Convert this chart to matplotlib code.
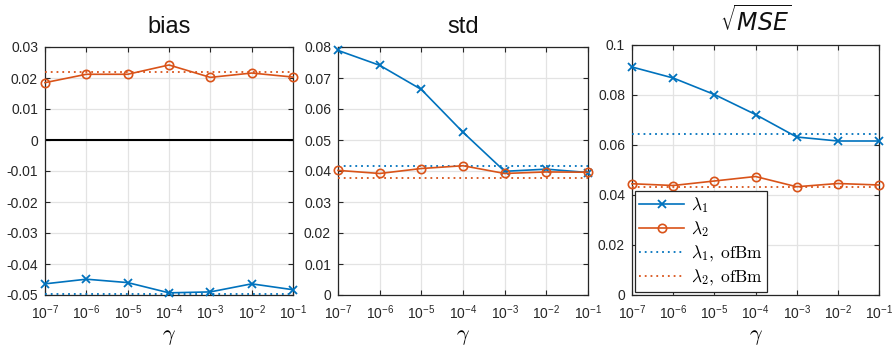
import numpy as np
import matplotlib
matplotlib.use("Agg")
import matplotlib.pyplot as plt

plt.rcParams['font.family'] = ['Liberation Sans', 'DejaVu Sans']
plt.rcParams['axes.unicode_minus'] = False
plt.rcParams['mathtext.fontset'] = 'dejavusans'

gamma = [1e-7, 1e-6, 1e-5, 1e-4, 1e-3, 1e-2, 1e-1]
xtick_labels = [r'$\mathregular{10^{-7}}$', r'$\mathregular{10^{-6}}$', r'$\mathregular{10^{-5}}$',
                r'$\mathregular{10^{-4}}$', r'$\mathregular{10^{-3}}$', r'$\mathregular{10^{-2}}$',
                r'$\mathregular{10^{-1}}$']

bias_l1 = [-0.0464, -0.0449, -0.0460, -0.0493, -0.0490, -0.0464, -0.0483]
bias_l2 = [0.0185, 0.0212, 0.0212, 0.0242, 0.0202, 0.0216, 0.0203]
bias_l1_ofbm = -0.0496
bias_l2_ofbm = 0.0219

std_l1 = [0.0789, 0.0741, 0.0663, 0.0525, 0.0399, 0.0406, 0.0395]
std_l2 = [0.0402, 0.0392, 0.0408, 0.0417, 0.0392, 0.0397, 0.0396]
std_l1_ofbm = 0.0415
std_l2_ofbm = 0.0379

mse_l1 = [0.0912, 0.0868, 0.0802, 0.0722, 0.0632, 0.0616, 0.0616]
mse_l2 = [0.0445, 0.0438, 0.0456, 0.0474, 0.0433, 0.0446, 0.0440]
mse_l1_ofbm = 0.0645
mse_l2_ofbm = 0.0433

BLUE = '#0072BD'
ORANGE = '#D95319'

fig = plt.figure(figsize=(8.94, 3.5), dpi=100)
positions = [
    [45/894, 1-295/350, 248/894, 248/350],
    [338/894, 1-295/350, 250/894, 248/350],
    [632/894, 1-295/350, 247/894, 250/350],
]

panels = [
    ('bias', bias_l1, bias_l2, bias_l1_ofbm, bias_l2_ofbm, (-0.05, 0.03),
     [0.03, 0.02, 0.01, 0, -0.01, -0.02, -0.03, -0.04, -0.05],
     ['0.03', '0.02', '0.01', '0', '-0.01', '-0.02', '-0.03', '-0.04', '-0.05']),
    ('std', std_l1, std_l2, std_l1_ofbm, std_l2_ofbm, (0, 0.08),
     [0, 0.01, 0.02, 0.03, 0.04, 0.05, 0.06, 0.07, 0.08],
     ['0', '0.01', '0.02', '0.03', '0.04', '0.05', '0.06', '0.07', '0.08']),
    (r'$\sqrt{MSE}$', mse_l1, mse_l2, mse_l1_ofbm, mse_l2_ofbm, (0, 0.1),
     [0, 0.02, 0.04, 0.06, 0.08, 0.1],
     ['0', '0.02', '0.04', '0.06', '0.08', '0.1']),
]

for i, (title, l1, l2, o1, o2, ylim, yt, ytl) in enumerate(panels):
    ax = fig.add_axes(positions[i])
    ax.set_xscale('log')
    ax.set_xlim(gamma[0], gamma[-1])
    ax.set_ylim(*ylim)
    h1, = ax.plot(gamma, l1, color=BLUE, marker='x', markersize=5.5, markeredgewidth=1.3,
                  linewidth=1.2, label=r'$\lambda_1$', clip_on=False, zorder=4)
    h2, = ax.plot(gamma, l2, color=ORANGE, marker='o', markersize=6, markerfacecolor='none',
                  markeredgewidth=1.2, linewidth=1.2, label=r'$\lambda_2$', clip_on=False, zorder=4)
    h3, = ax.plot([gamma[0], gamma[-1]], [o1, o1], color=BLUE, linestyle=(0, (1, 2.2)),
                  linewidth=1.3, label=r'$\lambda_1,\;\mathrm{ofBm}$', zorder=3)
    h4, = ax.plot([gamma[0], gamma[-1]], [o2, o2], color=ORANGE, linestyle=(0, (1, 2.2)),
                  linewidth=1.3, label=r'$\lambda_2,\;\mathrm{ofBm}$', zorder=3)
    if i == 0:
        ax.axhline(0, color='black', linewidth=1.5, zorder=2)
    ax.set_xticks(gamma)
    ax.set_xticklabels(xtick_labels)
    ax.minorticks_off()
    ax.set_yticks(yt)
    ax.set_yticklabels(ytl)
    ax.grid(True, color='#e3e3e3', linewidth=0.9)
    ax.set_axisbelow(True)
    ax.tick_params(direction='in', top=True, right=True, length=3.5, width=0.8,
                   labelsize=10, colors='#262626', pad=5)
    ax.tick_params(axis='x', pad=6, labelsize=10)
    for s in ax.spines.values():
        s.set_color('#262626')
        s.set_linewidth(0.9)
    t = ax.set_title(title, fontsize=17, pad=10, color='#111111')
    xl = ax.set_xlabel(r'$\gamma$', fontsize=16, labelpad=3)
    xl.set_math_fontfamily('cm')
    if i == 2:
        leg = ax.legend(handles=[h1, h2, h3, h4], loc='lower left', bbox_to_anchor=(0.0, 0.0),
                        fontsize=12.5, frameon=True, fancybox=False, edgecolor='#262626',
                        framealpha=1, handlelength=2.6, labelspacing=0.25,
                        borderpad=0.25, handletextpad=0.4, borderaxespad=0.15)
        leg.get_frame().set_linewidth(0.9)
        for tx in leg.get_texts():
            tx.set_math_fontfamily('cm')

fig.savefig('out.png', dpi=100)
